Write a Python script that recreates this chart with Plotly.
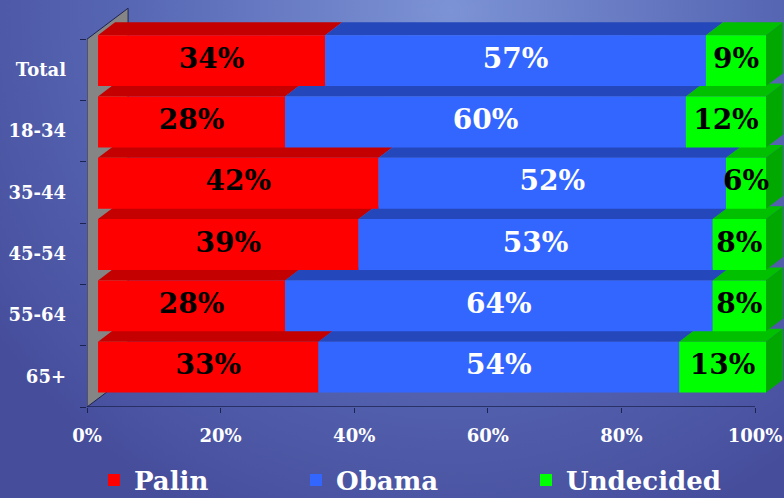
import base64
import plotly.graph_objects as go

categories = ['Total', '18-34', '35-44', '45-54', '55-64', '65+']
palin = [34, 28, 42, 39, 28, 33]
obama = [57, 60, 52, 53, 64, 54]
undecided = [9, 12, 6, 8, 8, 13]

# name, values, front colour, top colour, label colour
series = [
    ('Palin', palin, '#ff0000', '#c40000', 'black'),
    ('Obama', obama, '#3366ff', '#2448bc', 'white'),
    ('Undecided', undecided, '#00ff00', '#00c000', 'black'),
]
side_color = '#00a800'
edge = '#1c2350'
FONT = 'DejaVu Serif'

# fake 3-D, all in data units
FX, FY = 1.65, 0.15      # bar front face sits this far in from the floor edge
BAR_H = 0.83
DX, DY = 2.55, 0.21      # bar depth
WX, WY = 6.15, 0.505     # wall / floor depth
XR = [0, 104.34]
YR = [-0.5, 6.139]

n = len(categories)
ypos = [n - 1 - i for i in range(n)]   # Total at the top

fig = go.Figure()

# top faces (under the bars, on the base axes)
starts = []
for i in range(n):
    cum = 0
    row = []
    for name, vals, *_ in series:
        row.append(cum)
        cum += vals[i]
    starts.append(row)

for j, (name, vals, front, top, lab) in enumerate(series):
    xs, ys = [], []
    for i in range(n):
        x0 = starts[i][j] + FX
        x1 = x0 + vals[i]
        yt = ypos[i] + FY + BAR_H / 2
        xs += [x0, x1, x1 + DX, x0 + DX, x0, None]
        ys += [yt, yt, yt + DY, yt + DY, yt, None]
    fig.add_trace(go.Scatter(x=xs, y=ys, fill='toself', fillcolor=top,
                             mode='lines', line=dict(width=0),
                             showlegend=False, hoverinfo='skip'))

# right hand side faces
xs, ys = [], []
for i in reversed(range(n)):
    X = 100 + FX
    yb = ypos[i] + FY - BAR_H / 2
    yt = ypos[i] + FY + BAR_H / 2
    xs += [X, X, X + DX, X + DX, X, None]
    ys += [yb, yt, yt + DY, yb + DY, yb, None]
fig.add_trace(go.Scatter(x=xs, y=ys, fill='toself', fillcolor=side_color,
                         mode='lines', line=dict(width=0),
                         showlegend=False, hoverinfo='skip'))

# front faces + labels on an overlaid pair of axes so they sit on top
legends = ['legend', 'legend2', 'legend3']
for j, (name, vals, front, top, lab) in enumerate(series):
    base = [starts[i][j] + FX for i in range(n)]
    fig.add_trace(go.Bar(
        y=[p + FY for p in ypos], x=vals, base=base, orientation='h',
        width=BAR_H, marker=dict(color=front, line=dict(width=0)),
        name=name, legend=legends[j], xaxis='x2', yaxis='y2', hoverinfo='skip'))

for j, (name, vals, front, top, lab) in enumerate(series):
    fig.add_trace(go.Scatter(
        x=[starts[i][j] + FX + vals[i] / 2 for i in range(n)],
        y=[p + FY for p in ypos],
        text=[f'{v}%' for v in vals], mode='text',
        textfont=dict(family=FONT, size=28, color=lab, weight='bold'),
        xaxis='x2', yaxis='y2', showlegend=False, hoverinfo='skip',
        cliponaxis=False))

# background gradient
svg = ("<svg xmlns='http://www.w3.org/2000/svg' width='784' height='498' "
       "viewBox='0 0 784 498' preserveAspectRatio='none'><defs>"
       "<radialGradient id='g' gradientUnits='userSpaceOnUse' cx='450' cy='10' r='560'>"
       "<stop offset='0' stop-color='#7c93d5'/>"
       "<stop offset='0.55' stop-color='#5868b5'/>"
       "<stop offset='1' stop-color='#464e9c'/>"
       "</radialGradient></defs>"
       "<rect width='784' height='498' fill='url(#g)'/></svg>")
src = 'data:image/svg+xml;base64,' + base64.b64encode(svg.encode()).decode()

W, H = 784, 498
L, B = 87, 91
pw, ph = W - L, H - B

fig.add_layout_image(dict(source=src, xref='paper', yref='paper',
                          x=-L / pw, y=1, sizex=W / pw, sizey=H / ph,
                          xanchor='left', yanchor='top', sizing='stretch',
                          layer='below'))

# side wall and floor edge
fig.add_shape(type='path', xref='x', yref='y', layer='below',
              path=f'M 0,{YR[0]} L 0,{n - 0.5} L {WX},{n - 0.5 + WY} '
                   f'L {WX},{YR[0] + WY} Z',
              fillcolor='#858585', line=dict(color=edge, width=1))
fig.add_shape(type='line', xref='x', yref='y', x0=0, x1=100, y0=YR[0], y1=YR[0],
              line=dict(color=edge, width=1.5))

tickfont = dict(family=FONT, size=18, color='white', weight='bold')
legfont = dict(family=FONT, size=26, color='white', weight='bold')

fig.update_layout(
    width=W, height=H,
    margin=dict(l=L, r=0, t=0, b=B, autoexpand=False),
    paper_bgcolor='#5563ad', plot_bgcolor='rgba(0,0,0,0)',
    barmode='overlay',
    xaxis=dict(range=XR, tickvals=[0, 20, 40, 60, 80, 100],
               ticktext=['0%', '20%', '40%', '60%', '80%', '100%'],
               ticks='outside', ticklen=5, tickcolor=edge,
               showgrid=False, zeroline=False, showline=False,
               tickfont=tickfont, ticklabelstandoff=7, fixedrange=True),
    yaxis=dict(range=YR, tickvals=ypos, ticktext=categories, ticks='',
               minor=dict(tickvals=[k - 0.5 for k in range(n + 1)], ticks='outside',
                          ticklen=6, tickcolor=edge),
               showgrid=False, zeroline=False, showline=False,
               tickfont=tickfont, ticklabelstandoff=20, fixedrange=True),
    xaxis2=dict(range=XR, overlaying='x', anchor='y2', visible=False),
    yaxis2=dict(range=YR, overlaying='y', anchor='x2', visible=False),
    legend=dict(xref='container', yref='container', x=94 / W, y=1 - 480 / H,
                xanchor='left', yanchor='middle', font=legfont,
                bgcolor='rgba(0,0,0,0)'),
    legend2=dict(xref='container', yref='container', x=296 / W, y=1 - 480 / H,
                 xanchor='left', yanchor='middle', font=legfont,
                 bgcolor='rgba(0,0,0,0)'),
    legend3=dict(xref='container', yref='container', x=526 / W, y=1 - 480 / H,
                 xanchor='left', yanchor='middle', font=legfont,
                 bgcolor='rgba(0,0,0,0)'),
)

# page margin off so the 784x498 figure fills the window
fig.write_html('out.html', config={'displayModeBar': False},
               post_script="document.body.style.margin='0';")
